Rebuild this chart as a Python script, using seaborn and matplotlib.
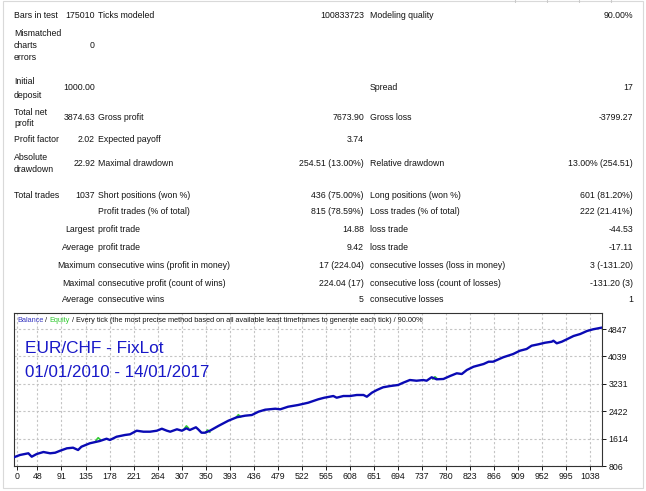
import matplotlib
matplotlib.use('Agg')
import matplotlib.pyplot as plt
import seaborn as sns
import pandas as pd
from matplotlib.patches import Rectangle
from matplotlib.lines import Line2D

# ---------------- data ----------------
trade_no = [6, 17, 32, 38, 47, 59, 71, 80, 89, 101, 112, 121, 127, 142, 160, 172, 178, 190,
            205, 214, 226, 238, 250, 262, 271, 280, 286, 298, 307, 315, 321, 332, 336, 342,
            348, 357, 372, 390, 405, 420, 432, 444, 456, 474, 483, 497, 515, 533, 551, 562,
            566, 578, 584, 596, 608, 620, 632, 638, 647, 656, 667, 680, 694, 703, 715, 727,
            739, 745, 754, 763, 775, 787, 799, 808, 817, 829, 847, 856, 864, 882, 900, 912,
            924, 933, 945, 957, 969, 972, 978, 987, 996, 1008, 1020, 1032, 1043, 1059]
balance = [1063, 1131, 1181, 1080, 1160, 1219, 1181, 1198, 1257, 1328, 1346, 1278, 1375, 1476,
           1544, 1611, 1573, 1670, 1721, 1741, 1847, 1818, 1818, 1847, 1906, 1847, 1818, 1889,
           1847, 1918, 1868, 1948, 1889, 1788, 1788, 1847, 1986, 2142, 2243, 2290, 2310, 2408,
           2467, 2496, 2479, 2555, 2606, 2673, 2774, 2821, 2833, 2871, 2821, 2871, 2871, 2901,
           2901, 2850, 2968, 3048, 3128, 3166, 3196, 3263, 3343, 3322, 3343, 3322, 3423, 3364,
           3373, 3461, 3541, 3520, 3638, 3735, 3815, 3883, 3883, 4013, 4110, 4207, 4258, 4355,
           4396, 4443, 4473, 4502, 4426, 4473, 4544, 4641, 4700, 4788, 4839, 4890]

# equity excursions visible as small green spikes
equity_spikes_t = [[153, 157, 161], [311, 315, 319], [349, 353, 357], [404, 408, 412], [756, 760, 764]]
equity_spikes_v = [[1560, 1640, 1580], [1900, 1990, 1920], [1790, 1870, 1800], [2240, 2320, 2250], [3370, 3440, 3380]]

x_tick_labels = [0, 48, 91, 135, 178, 221, 264, 307, 350, 393, 436, 479, 522, 565, 608, 651,
                 694, 737, 780, 823, 866, 909, 952, 995, 1038]
y_tick_values = [806, 1614, 2422, 3231, 4039, 4847]

# report table texts: (x_px, y_px, text, ha)
report_texts = [
    (14, 16, 'Bars in test', 'left'), (95, 16, '175010', 'right'), (98, 16, 'Ticks modeled', 'left'),
    (364, 16, '100833723', 'right'), (370, 16, 'Modeling quality', 'left'), (633, 16, '90.00%', 'right'),
    (14, 34, 'Mismatched', 'left'), (14, 46, 'charts', 'left'), (14, 58, 'errors', 'left'), (95, 46, '0', 'right'),
    (14, 82, 'Initial', 'left'), (14, 95, 'deposit', 'left'), (95, 88, '1000.00', 'right'),
    (370, 88, 'Spread', 'left'), (633, 88, '17', 'right'),
    (14, 112, 'Total net', 'left'), (14, 124, 'profit', 'left'), (95, 117, '3874.63', 'right'),
    (98, 117, 'Gross profit', 'left'), (364, 117, '7673.90', 'right'), (370, 117, 'Gross loss', 'left'),
    (633, 117, '-3799.27', 'right'),
    (14, 140, 'Profit factor', 'left'), (95, 140, '2.02', 'right'), (98, 140, 'Expected payoff', 'left'),
    (364, 140, '3.74', 'right'),
    (14, 158, 'Absolute', 'left'), (14, 170, 'drawdown', 'left'), (95, 164, '22.92', 'right'),
    (98, 164, 'Maximal drawdown', 'left'), (364, 164, '254.51 (13.00%)', 'right'),
    (370, 164, 'Relative drawdown', 'left'), (633, 164, '13.00% (254.51)', 'right'),
    (14, 195, 'Total trades', 'left'), (95, 195, '1037', 'right'), (98, 195, 'Short positions (won %)', 'left'),
    (364, 195, '436 (75.00%)', 'right'), (370, 195, 'Long positions (won %)', 'left'), (633, 195, '601 (81.20%)', 'right'),
    (98, 212, 'Profit trades (% of total)', 'left'), (364, 212, '815 (78.59%)', 'right'),
    (370, 212, 'Loss trades (% of total)', 'left'), (633, 212, '222 (21.41%)', 'right'),
    (95, 230, 'Largest', 'right'), (98, 230, 'profit trade', 'left'), (364, 230, '14.88', 'right'),
    (370, 230, 'loss trade', 'left'), (633, 230, '-44.53', 'right'),
    (95, 248, 'Average', 'right'), (98, 248, 'profit trade', 'left'), (364, 248, '9.42', 'right'),
    (370, 248, 'loss trade', 'left'), (633, 248, '-17.11', 'right'),
    (95, 265, 'Maximum', 'right'), (98, 265, 'consecutive wins (profit in money)', 'left'),
    (364, 265, '17 (224.04)', 'right'), (370, 265, 'consecutive losses (loss in money)', 'left'),
    (633, 265, '3 (-131.20)', 'right'),
    (95, 283, 'Maximal', 'right'), (98, 283, 'consecutive profit (count of wins)', 'left'),
    (364, 283, '224.04 (17)', 'right'), (370, 283, 'consecutive loss (count of losses)', 'left'),
    (633, 283, '-131.20 (3)', 'right'),
    (95, 300, 'Average', 'right'), (98, 300, 'consecutive wins', 'left'), (364, 300, '5', 'right'),
    (370, 300, 'consecutive losses', 'left'), (633, 300, '1', 'right'),
]

# ---------------- drawing ----------------
sns.set_theme(style='white')
plt.rcParams['font.family'] = ['Liberation Sans Narrow', 'Liberation Sans', 'DejaVu Sans']

W, H = 646, 491
fig = plt.figure(figsize=(W / 100, H / 100), dpi=100)
fig.patch.set_facecolor('white')

def fx(x):
    return x / W

def fy(y):
    return 1 - y / H

# outer page frame
fig.add_artist(Rectangle((fx(3), fy(488)), fx(643) - fx(3), fy(1) - fy(488), transform=fig.transFigure,
                         fill=False, edgecolor='#d9d9d9', lw=0.8))
for sx in [515, 547, 579, 611]:
    fig.add_artist(Line2D([fx(sx), fx(sx)], [fy(0), fy(2)], transform=fig.transFigure, color='#c8c8c8', lw=0.8))

TXT = '#141414'
for x, y, s, ha in report_texts:
    fig.text(fx(x), fy(y), s, ha=ha, va='center', fontsize=6.3, color=TXT)

# chart
ax = fig.add_axes([fx(14), fy(466), fx(602) - fx(14), fy(313) - fy(466)])
ax.set_facecolor('white')
for (et, ev) in zip(equity_spikes_t, equity_spikes_v):
    ax.plot(et, ev, color='#33cc33', lw=1.2, zorder=2)
df = pd.DataFrame({'trade': trade_no, 'balance': balance})
sns.lineplot(data=df, x='trade', y='balance', ax=ax, color='#0a0ab4', lw=1.7,
             estimator=None, sort=False, zorder=3)

xmin, xmax = 6.3, 1059
ax.set_xlim(xmin, xmax)
ax.set_ylim(806, 5320)
xt_pos = [max(v, 11.1) for v in x_tick_labels]
ax.set_xticks(xt_pos)
ax.set_xticklabels([str(v) for v in x_tick_labels])
ax.set_yticks(y_tick_values)
ax.set_yticklabels([str(v) for v in y_tick_values])
ax.yaxis.tick_right()
ax.tick_params(axis='both', which='both', labelsize=6.3, colors=TXT, length=3, width=0.7, direction='out', pad=1.5)
ax.tick_params(axis='x', bottom=True)
ax.tick_params(axis='y', right=True, left=False)
ax.grid(True, color='#c4c4c4', lw=0.8, linestyle=(0, (2, 2)))
for sp in ax.spines.values():
    sp.set_color('#333333')
    sp.set_linewidth(0.8)
ax.set_xlabel('')
ax.set_ylabel('')

# titles inside chart
fig.text(fx(25), fy(353), 'EUR/CHF - FixLot', fontsize=12.4, color='#1818c8', family=['Liberation Sans', 'DejaVu Sans'], va='baseline')
fig.text(fx(25), fy(377), '01/01/2010 - 14/01/2017', fontsize=12.2, color='#1818c8', family=['Liberation Sans', 'DejaVu Sans'], va='baseline')

# multicoloured header line
parts = [('Balance', '#3535c0'), (' / ', TXT), ('Equity', '#2ec82e'),
         (' / Every tick (the most precise method based on all available least timeframes to generate each tick) / 90.00%', TXT)]
fig.canvas.draw()
renderer = fig.canvas.get_renderer()
cur = 17
for s, c in parts:
    t = fig.text(fx(cur), fy(321), s, fontsize=5.3, color=c, va='center', ha='left')
    bb = t.get_window_extent(renderer)
    cur += bb.width

fig.savefig('out.png', dpi=100, facecolor='white')
